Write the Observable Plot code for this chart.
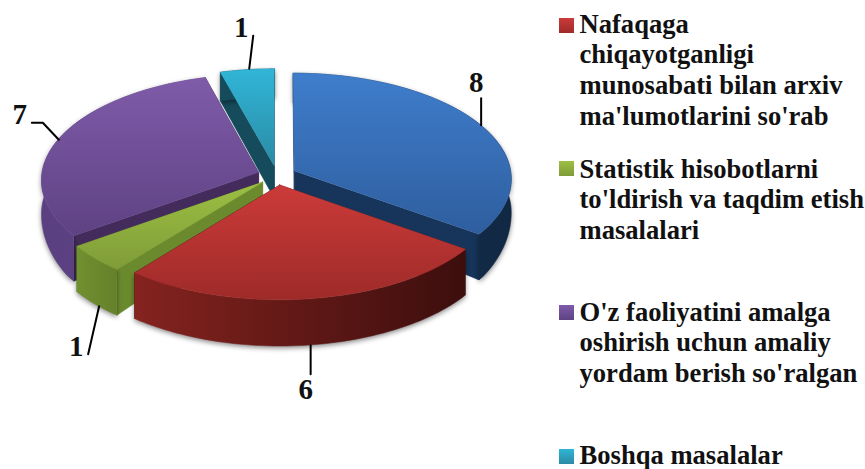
<!DOCTYPE html>
<html><head><meta charset="utf-8">
<script src="https://cdn.jsdelivr.net/npm/d3@7"></script>
<script src="https://cdn.jsdelivr.net/npm/@observablehq/plot@0.6"></script>
<style>
html,body{margin:0;padding:0;background:#fff}
#wrap{position:relative;width:865px;height:469px;overflow:hidden}
#legend{position:absolute;left:0;top:0;font:bold 26.6px/30.7px "Liberation Serif",serif;color:#111}
.item{position:absolute;left:579.5px;white-space:pre}
.sw{position:absolute;left:559px;width:15px;height:14.5px}
</style></head><body><div id="wrap"><div id="legend"></div></div>
<script>
// Data, clockwise from twelve o'clock
const sliceValues = [8, 6, 1, 7, 1];
const legendLines = [
  ["Nafaqaga", "chiqayotganligi", "munosabati bilan arxiv", "ma'lumotlarini so'rab"],
  ["Statistik hisobotlarni", "to'ldirish va taqdim etish", "masalalari"],
  ["O'z faoliyatini amalga", "oshirish uchun amaliy", "yordam berish so'ralgan"],
  ["Boshqa masalalar"]
];
const legendSlices = [1, 2, 3, 4];

// Styles and layout
const topColors  = [["#3F7DCC","#2E5E9E"],["#CB3B39","#9E2B29"],["#9DBF43","#7F9C38"],["#7F5BA9","#5E4283"],["#31B5D6","#2A8BA6"]];
const rimColors  = [["#17355A","#112843"],["#85231F","#3C0E0D"],["#71902F","#65812B"],["#5A4080","#5F4585"],["#164B5C","#164B5C"]];
const wallColors = ["#17355A","#4A1513","#6B8A2E","#432C5C","#164B5C"];
const drawOrder = [4, 3, 0, 2, 1];
const explode = 0.09, persp = 0.07, rxPx = 217, ryPx = 106, cxPx = 276.5, cyPx = 175;
const depthPx = d3.scaleLinear().domain([-1,0,0.5,1]).range([31,33,44,43]).clamp(true);
const leaderOffsets = [[[1.5,1],[1.5,-26]],[[-1,0.5],[-1,29.5]],[[4,2],[-7,50]],[[-1,2],[-17,-15],[-28,-15]],[[2,-1],[6,-34]]];
const labelOffsets = [[-3.5,-41],[-6,44.5],[-19,42],[-40,-23],[-6,-42]];
const anchorOnBase = [0,1,1,0,0];

const arcs = d3.pie().sort(null).startAngle(0).endAngle(2*Math.PI)(sliceValues);
const proj = (i, r, a, h) => {
  const m = (arcs[i].startAngle + arcs[i].endAngle) / 2;
  const u = explode*Math.sin(m) + r*Math.sin(a), v = -explode*Math.cos(m) - r*Math.cos(a);
  const s = 1 + persp*v;
  return {x: u*s, y: (v + h*depthPx(v)/ryPx)*s};
};
const arcPts = (i, h) => d3.range(0, 61).map(t => proj(i, 1, arcs[i].startAngle + (arcs[i].endAngle-arcs[i].startAngle)*t/60, h));
const poly = (pts, fill, extra={}) => Plot.line(pts, {x:"x", y:"y", fill, stroke:fill, strokeWidth:0.5, curve:"linear", ...extra});

const marks = [];
for (const i of drawOrder) {
  const A = arcs[i];
  const wall = a => [proj(i,0,a,0), proj(i,1,a,0), proj(i,1,a,1), proj(i,0,a,1), proj(i,0,a,0)];
  marks.push(poly(wall(A.startAngle), wallColors[i]));
  marks.push(poly(wall(A.endAngle), wallColors[i]));
  marks.push(poly([...arcPts(i,0), ...arcPts(i,1).reverse()], `url(#rim${i})`, {imageFilter:"drop-shadow(0 2px 2.5px rgba(0,0,0,.45))"}));
  marks.push(poly([proj(i,0,0,0), ...arcPts(i,0)], `url(#top${i})`));
}
arcs.forEach((A, i) => {
  const m = (A.startAngle + A.endAngle)/2, p = proj(i,1,m,anchorOnBase[i]);
  marks.push(Plot.line(leaderOffsets[i].map(([dx,dy]) => ({x:p.x+dx/rxPx, y:p.y+dy/ryPx})), {x:"x", y:"y", stroke:"#000", strokeWidth:2, curve:"linear"}));
  marks.push(Plot.text([sliceValues[i]], {x:p.x+labelOffsets[i][0]/rxPx, y:p.y+labelOffsets[i][1]/ryPx, text:d=>String(d), fontFamily:"Liberation Serif", fontWeight:"bold", fontSize:29, fill:"#111", textAnchor:"middle", lineAnchor:"middle"}));
});

const chart = Plot.plot({
  width:865, height:469, margin:0,
  x:{domain:[-1,1], range:[cxPx-rxPx, cxPx+rxPx], axis:null},
  y:{domain:[-1,1], range:[cyPx-ryPx, cyPx+ryPx], axis:null},
  marks
});
const defs = d3.select(chart).insert("defs", ":first-child");
const grad = (id, [a,b], horiz) => {
  const g = defs.append("linearGradient").attr("id", id).attr("x1",0).attr("y1",0).attr("x2",horiz?1:0).attr("y2",horiz?0:1);
  g.append("stop").attr("offset",0).attr("stop-color",a);
  g.append("stop").attr("offset",1).attr("stop-color",b);
};
topColors.forEach((c,i)=>grad(`top${i}`,c,false));
rimColors.forEach((c,i)=>grad(`rim${i}`,c,true));
document.getElementById("wrap").prepend(chart);

// Legend
const itemTops = [8.7, 153.7, 296.7, 440.5], swTops = [18, 161, 305, 449], itemLH = [30.7, 30.7, 30.7, 28];
const legend = document.getElementById("legend");
legendLines.forEach((lines, k) => {
  const sw = document.createElement("div"); sw.className = "sw"; sw.style.top = swTops[k]+"px";
  const c = topColors[legendSlices[k]];
  sw.style.background = `linear-gradient(${c[0]},${c[1]})`;
  legend.append(sw);
  const t = document.createElement("div"); t.className = "item"; t.style.top = itemTops[k]+"px"; t.style.lineHeight = itemLH[k]+"px";
  t.textContent = lines.join("\n");
  legend.append(t);
});
</script></body></html>
